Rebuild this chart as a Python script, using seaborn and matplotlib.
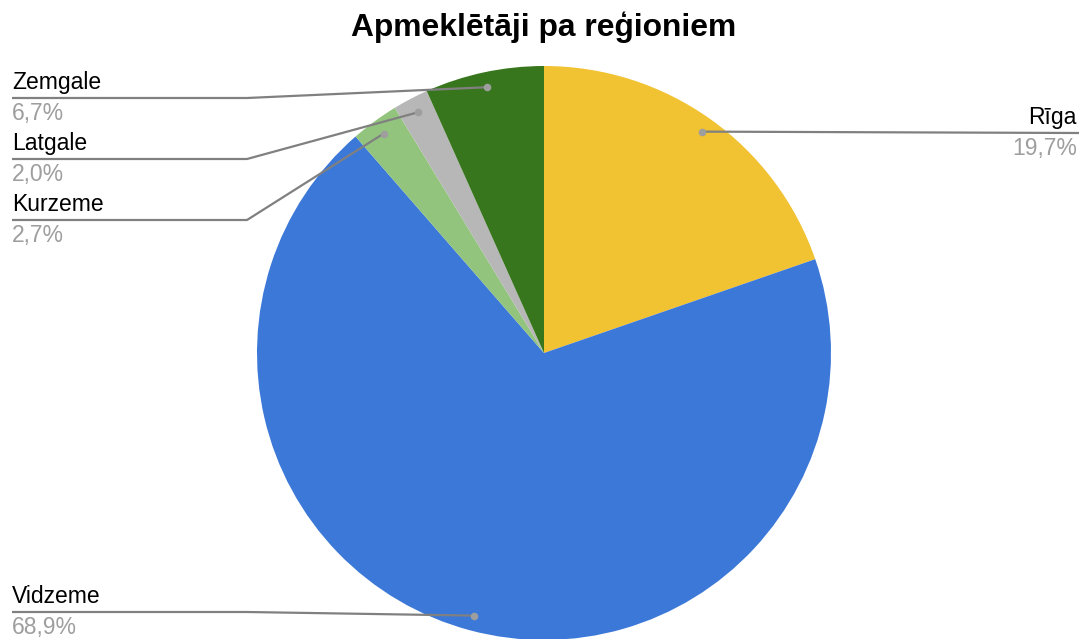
import numpy as np
import matplotlib
matplotlib.use("Agg")
import matplotlib.pyplot as plt
import seaborn as sns

# ---- data ----
regions = ["Rīga", "Vidzeme", "Kurzeme", "Latgale", "Zemgale"]
shares = [19.7, 68.9, 2.7, 2.0, 6.7]
pct_labels = ["19,7%", "68,9%", "2,7%", "2,0%", "6,7%"]
title = "Apmeklētāji pa reģioniem"
colors = ["#F1C232", "#3C78D8", "#93C47D", "#B7B7B7", "#38761D"]

# ---- layout (pixel space, y up) ----
W, H = 1079, 639
cx, cy, R = 544, H - 353, 287
label_line_y = {"Rīga": 133, "Vidzeme": 612, "Kurzeme": 220, "Latgale": 159, "Zemgale": 98}
elbow_x = 247
left_x = 12
right_x = 1077

sns.set_theme(style="white")
plt.rcParams['font.family'] = ['Liberation Sans', 'DejaVu Sans']

fig = plt.figure(figsize=(W / 100, H / 100), dpi=100)
ax = fig.add_axes([0, 0, 1, 1])
pal = sns.color_palette(colors)

wedges, _ = ax.pie(shares, colors=pal, startangle=90, counterclock=False,
                   center=(cx, cy), radius=R,
                   wedgeprops=dict(linewidth=0, edgecolor="none"))
ax.set_xlim(0, W)
ax.set_ylim(0, H)
ax.set_aspect("equal")
ax.axis("off")

line_c = "#808080"
dot_c = "#9E9E9E"
fs = 16.5
total = sum(shares)
cum = 0.0
for name, v, p in zip(regions, shares, pct_labels):
    mid = cum + v / 2
    cum += v
    ang = np.deg2rad(90 - 360 * mid / total)
    dx, dy = cx + 0.947 * R * np.cos(ang), cy + 0.947 * R * np.sin(ang)
    ly = H - label_line_y[name]
    if np.cos(ang) >= 0:
        ax.plot([dx, W], [dy, ly], color=line_c, lw=1.6, solid_capstyle="butt", zorder=3)
        ax.text(right_x, ly + 4, name, ha="right", va="bottom", fontsize=fs, color="#000000")
        ax.text(right_x, ly - 4, p, ha="right", va="top", fontsize=fs, color="#9E9E9E")
    else:
        ax.plot([dx, elbow_x, left_x], [dy, ly, ly], color=line_c, lw=1.6,
                solid_capstyle="butt", zorder=3)
        ax.text(left_x, ly + 4, name, ha="left", va="bottom", fontsize=fs, color="#000000")
        ax.text(left_x, ly - 4, p, ha="left", va="top", fontsize=fs, color="#9E9E9E")
    ax.scatter([dx], [dy], s=30, color=dot_c, zorder=4, linewidths=0)

fig.text(544 / W, 1 - 27 / H, title, ha="center", va="center",
         fontsize=22.9, fontweight="bold", color="#000000")

fig.savefig("out.png", dpi=100)
